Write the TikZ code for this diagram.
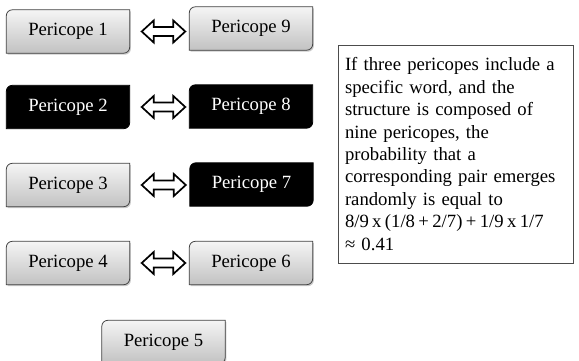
\documentclass[tikz,border=0pt]{standalone}
\usepackage{fontspec}
\setmainfont{Liberation Serif}
\usetikzlibrary{calc,backgrounds,shadows}
\tikzset{
  pericope/.style={inner sep=0pt, minimum width=123pt, minimum height=43pt,
    font=\fontsize{18.7}{22}\selectfont},
  lightbox/.style={draw=black!75, line width=0.8pt, top color=black!4, bottom color=black!24,
    drop shadow={shadow xshift=1.2pt, shadow yshift=-1.5pt, opacity=0.35, fill=black!60}},
  darkbox/.style={draw=black, line width=0.8pt, fill=black},
  pair/.style={draw=black, line width=1.7pt, fill=white, line join=miter},
}
\begin{document}
\begin{tikzpicture}[x=1pt, y=-1pt]
			    \useasboundingbox (0, 0) rectangle (579, 361);

			    \node [pericope] at (68, 31.5) (p1) {Pericope 1};
			    \node [pericope] at (251, 28.5) (p9) {Pericope 9};
			    \node [pericope, text=white] at (68, 107) (p2) {Pericope 2};
			    \node [pericope, text=white] at (251, 106.5) (p8) {Pericope 8};
			    \node [pericope] at (68, 185) (p3) {Pericope 3};
			    \node [pericope, text=white] at (251.5, 184.5) (p7) {Pericope 7};
			    \node [pericope] at (68, 263) (p4) {Pericope 4};
			    \node [pericope] at (251, 263) (p6) {Pericope 6};
			    \node [pericope] at (163.5, 342) (p5) {Pericope 5};

			    % box outlines, rounded at two opposite corners
			    \begin{pgfonlayer}{background}
			    \foreach \n/\s in {p1/lightbox, p9/lightbox, p2/darkbox, p8/darkbox, p3/lightbox,
			                       p7/darkbox, p4/lightbox, p6/lightbox, p5/lightbox} {
			        \draw [\s] ([xshift=6pt]\n.north west) -- (\n.north east)
			            -- ([yshift=6pt]\n.south east) arc [start angle=0, end angle=-90, radius=6pt]
			            -- (\n.south west)
			            -- ([yshift=-6pt]\n.north west) arc [start angle=180, end angle=90, radius=6pt]
			            -- cycle;
			    }
			    \end{pgfonlayer}

			    % double block arrows between matching pericopes
			    \foreach \a/\b in {p1/p9, p2/p8, p3/p7, p4/p6} {
			        \draw [pair] let \p1 = ($(\a.east)+(12pt,0)$), \p2 = ($(\b.west)+(-4pt,0)$) in
			            (\x1, \y1) -- (\x1+12pt, \y1+11pt) -- (\x1+12pt, \y1+4.5pt)
			            -- (\x2-12pt, \y1+4.5pt) -- (\x2-12pt, \y1+11pt) -- (\x2, \y1)
			            -- (\x2-12pt, \y1-11pt) -- (\x2-12pt, \y1-4.5pt)
			            -- (\x1+12pt, \y1-4.5pt) -- (\x1+12pt, \y1-11pt) -- cycle;
			    }

			    \node [draw=black!70, line width=0.8pt, minimum width=235pt, minimum height=218pt,
			           text width=221pt, inner sep=7pt, align=left,
			           font=\fontsize{18.7}{22.4}\selectfont] at (455.5, 154) (note)
			        {If three pericopes include a\\specific word, and the\\structure is composed of\\
			         nine pericopes, the\\probability that a\\corresponding pair emerges\\
			         randomly is equal to\\{\spaceskip=0.18em\mbox{8/9 x (1/8 + 2/7) + 1/9 x 1/7}}\\≈ 0.41};
		    \end{tikzpicture}
\end{document}
